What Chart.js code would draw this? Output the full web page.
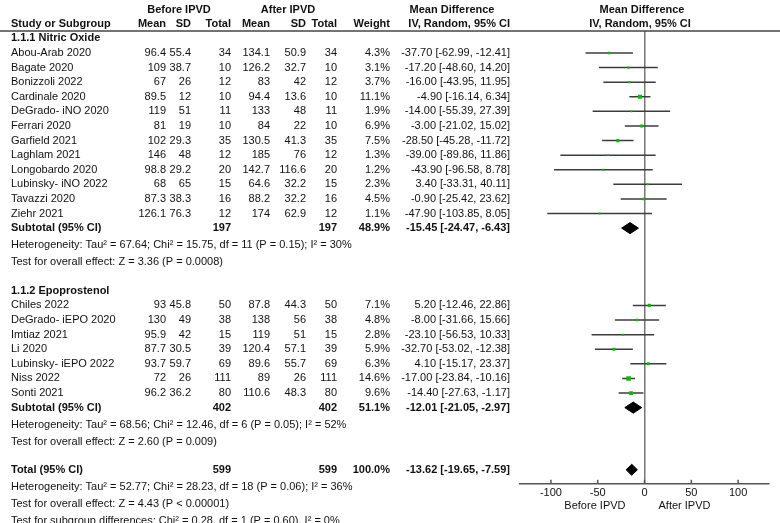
<!DOCTYPE html>
<html>
<head>
<meta charset="utf-8">
<script src="https://cdn.jsdelivr.net/npm/chart.js@4.4.0/dist/chart.umd.min.js"></script>
<style>
  html, body { margin: 0; padding: 0; background: #fff; }
  #wrap { position: relative; width: 780px; height: 523px; }
</style>
</head>
<body>
<div id="wrap"><canvas id="chart"></canvas></div>
<script>
// 1.1.1 Nitric Oxide
const noStudies = ["Abou-Arab 2020", "Bagate 2020", "Bonizzoli 2022", "Cardinale 2020", "DeGrado- iNO 2020", "Ferrari 2020",
  "Garfield 2021", "Laghlam 2021", "Longobardo 2020", "Lubinsky- iNO 2022", "Tavazzi 2020", "Ziehr 2021"];
const noBeforeMean = [96.4, 109, 67, 89.5, 119, 81, 102, 146, 98.8, 68, 87.3, 126.1];
const noBeforeSD = [55.4, 38.7, 26, 12, 51, 19, 29.3, 48, 29.2, 65, 38.3, 76.3];
const noBeforeN = [34, 10, 12, 10, 11, 10, 35, 12, 20, 15, 16, 12];
const noAfterMean = [134.1, 126.2, 83, 94.4, 133, 84, 130.5, 185, 142.7, 64.6, 88.2, 174];
const noAfterSD = [50.9, 32.7, 42, 13.6, 48, 22, 41.3, 76, 116.6, 32.2, 32.2, 62.9];
const noAfterN = [34, 10, 12, 10, 11, 10, 35, 12, 20, 15, 16, 12];
const noWeight = [4.3, 3.1, 3.7, 11.1, 1.9, 6.9, 7.5, 1.3, 1.2, 2.3, 4.5, 1.1];
const noMD = [-37.70, -17.20, -16.00, -4.90, -14.00, -3.00, -28.50, -39.00, -43.90, 3.40, -0.90, -47.90];
const noLow = [-62.99, -48.60, -43.95, -16.14, -55.39, -21.02, -45.28, -89.86, -96.58, -33.31, -25.42, -103.85];
const noHigh = [-12.41, 14.20, 11.95, 6.34, 27.39, 15.02, -11.72, 11.86, 8.78, 40.11, 23.62, 8.05];

// 1.1.2 Epoprostenol
const epoStudies = ["Chiles 2022", "DeGrado- iEPO 2020", "Imtiaz 2021", "Li 2020", "Lubinsky- iEPO 2022", "Niss 2022", "Sonti 2021"];
const epoBeforeMean = [93, 130, 95.9, 87.7, 93.7, 72, 96.2];
const epoBeforeSD = [45.8, 49, 42, 30.5, 59.7, 26, 36.2];
const epoBeforeN = [50, 38, 15, 39, 69, 111, 80];
const epoAfterMean = [87.8, 138, 119, 120.4, 89.6, 89, 110.6];
const epoAfterSD = [44.3, 56, 51, 57.1, 55.7, 26, 48.3];
const epoAfterN = [50, 38, 15, 39, 69, 111, 80];
const epoWeight = [7.1, 4.8, 2.8, 5.9, 6.3, 14.6, 9.6];
const epoMD = [5.20, -8.00, -23.10, -32.70, 4.10, -17.00, -14.40];
const epoLow = [-12.46, -31.66, -56.53, -53.02, -15.17, -23.84, -27.63];
const epoHigh = [22.86, 15.66, 10.33, -12.38, 23.37, -10.16, -1.17];

// pooled estimates: NO subtotal, EPO subtotal, overall total
const pooledLabels = ["Subtotal (95% CI)", "Subtotal (95% CI)", "Total (95% CI)"];
const pooledBeforeN = [197, 402, 599];
const pooledAfterN = [197, 402, 599];
const pooledWeight = [48.9, 51.1, 100.0];
const pooledMD = [-15.45, -12.01, -13.62];
const pooledLow = [-24.47, -21.05, -19.65];
const pooledHigh = [-6.43, -2.97, -7.59];

const noNotes = ["Heterogeneity: Tau\u00b2 = 67.64; Chi\u00b2 = 15.75, df = 11 (P = 0.15); I\u00b2 = 30%",
  "Test for overall effect: Z = 3.36 (P = 0.0008)"];
const epoNotes = ["Heterogeneity: Tau\u00b2 = 68.56; Chi\u00b2 = 12.46, df = 6 (P = 0.05); I\u00b2 = 52%",
  "Test for overall effect: Z = 2.60 (P = 0.009)"];
const totalNotes = ["Heterogeneity: Tau\u00b2 = 52.77; Chi\u00b2 = 28.23, df = 18 (P = 0.06); I\u00b2 = 36%",
  "Test for overall effect: Z = 4.43 (P < 0.00001)",
  "Test for subgroup differences: Chi\u00b2 = 0.28, df = 1 (P = 0.60), I\u00b2 = 0%"];

const xTicks = [-100, -50, 0, 50, 100];

// row layout (in row units, one row = one study line)
const NOTE_STEP = 17 / 14.6;
const G1 = 0;
const G2 = 17.3;
const TOT = 28.56;
const noRows = noStudies.map((_, i) => G1 + i);
const epoRows = epoStudies.map((_, i) => G2 + i);
const pooledRows = [G1 + noStudies.length, G2 + epoStudies.length, TOT];

const FONT = '"Liberation Sans", Arial, sans-serif';
const GREEN = '#00c000';
const LINE = '#3c3c3c';

const studyMD = noMD.concat(epoMD);
const studyLow = noLow.concat(epoLow);
const studyHigh = noHigh.concat(epoHigh);
const studyRows = noRows.concat(epoRows);
const studyWeight = noWeight.concat(epoWeight);

const ciSets = studyMD.map((_, i) => ({
  type: 'scatter',
  data: [{ x: studyLow[i], y: studyRows[i] }, { x: studyHigh[i], y: studyRows[i] }],
  showLine: true,
  borderColor: LINE,
  borderWidth: 1.5,
  pointRadius: 0,
  order: 2
}));

const squareSet = {
  type: 'scatter',
  data: studyMD.map((m, i) => ({ x: m, y: studyRows[i] })),
  pointStyle: 'rect',
  pointRadius: studyWeight.map(w => Math.max(1.3, 0.85 * Math.sqrt(w))),
  backgroundColor: GREEN,
  borderColor: GREEN,
  borderWidth: 0,
  order: 1
};

const DH = 0.38;
const diamondSets = pooledMD.map((m, i) => ({
  type: 'scatter',
  data: [
    { x: pooledLow[i], y: pooledRows[i] },
    { x: m, y: pooledRows[i] - DH },
    { x: pooledHigh[i], y: pooledRows[i] },
    { x: m, y: pooledRows[i] + DH },
    { x: pooledLow[i], y: pooledRows[i] }
  ],
  showLine: true,
  fill: 'shape',
  backgroundColor: '#000',
  borderColor: '#000',
  borderWidth: 1,
  pointRadius: 0,
  order: 0
}));

const tablePlugin = {
  id: 'table',
  afterDraw(chart) {
    const ctx = chart.ctx;
    const y = chart.scales.y;
    const x = chart.scales.x;
    const area = chart.chartArea;
    ctx.save();
    ctx.fillStyle = '#111';
    ctx.textBaseline = 'middle';
    const put = (t, px, py, align, bold) => {
      ctx.font = (bold ? 'bold ' : '') + '11px ' + FONT;
      ctx.textAlign = align || 'right';
      ctx.fillText(t, px, py);
    };
    const cols = [166, 191, 231, 270, 306, 337, 390, 510];
    const ci = (m, l, h) => m.toFixed(2) + ' [' + l.toFixed(2) + ', ' + h.toFixed(2) + ']';

    // headers
    put('Before IPVD', 179, 10, 'center', true);
    put('After IPVD', 288, 10, 'center', true);
    put('Mean Difference', 452, 10, 'center', true);
    put('Mean Difference', 642, 10, 'center', true);
    put('Study or Subgroup', 11, 24, 'left', true);
    ['Mean', 'SD', 'Total', 'Mean', 'SD', 'Total', 'Weight'].forEach((h, i) => put(h, cols[i], 24, 'right', true));
    put('IV, Random, 95% CI', 510, 24, 'right', true);
    put('IV, Random, 95% CI', 640, 24, 'center', true);

    ctx.strokeStyle = '#444';
    ctx.lineWidth = 1.5;
    ctx.beginPath();
    ctx.moveTo(0, area.top);
    ctx.lineTo(780, area.top);
    ctx.stroke();

    const group = (title, titleRow, names, bm, bs, bn, am, as, an, w, md, lo, hi, rows) => {
      put(title, 11, y.getPixelForValue(titleRow), 'left', true);
      names.forEach((n, i) => {
        const py = y.getPixelForValue(rows[i]);
        put(n, 11, py, 'left');
        [bm[i], bs[i], bn[i], am[i], as[i], an[i]].forEach((v, k) => put(String(v), cols[k], py));
        put(w[i].toFixed(1) + '%', cols[6], py);
        put(ci(md[i], lo[i], hi[i]), cols[7], py);
      });
    };
    group('1.1.1 Nitric Oxide', G1 - 1, noStudies, noBeforeMean, noBeforeSD, noBeforeN, noAfterMean, noAfterSD, noAfterN,
      noWeight, noMD, noLow, noHigh, noRows);
    group('1.1.2 Epoprostenol', G2 - 1, epoStudies, epoBeforeMean, epoBeforeSD, epoBeforeN, epoAfterMean, epoAfterSD, epoAfterN,
      epoWeight, epoMD, epoLow, epoHigh, epoRows);

    const notes = [noNotes, epoNotes, totalNotes];
    pooledLabels.forEach((lab, i) => {
      const py = y.getPixelForValue(pooledRows[i]);
      put(lab, 11, py, 'left', true);
      put(String(pooledBeforeN[i]), cols[2], py, 'right', true);
      put(String(pooledAfterN[i]), cols[5], py, 'right', true);
      put(pooledWeight[i].toFixed(1) + '%', cols[6], py, 'right', true);
      put(ci(pooledMD[i], pooledLow[i], pooledHigh[i]), cols[7], py, 'right', true);
      notes[i].forEach((t, k) => put(t, 11, y.getPixelForValue(pooledRows[i] + NOTE_STEP * (k + 1)), 'left'));
    });

    // upward tick marks on the axis
    ctx.strokeStyle = '#555';
    ctx.lineWidth = 1.5;
    x.ticks.forEach(t => {
      const px = x.getPixelForValue(t.value);
      ctx.beginPath();
      ctx.moveTo(px, area.bottom);
      ctx.lineTo(px, area.bottom - 4);
      ctx.stroke();
    });
    const zero = x.getPixelForValue(0);
    put('Before IPVD', zero - 19, area.bottom + 22, 'right');
    put('After IPVD', zero + 14, area.bottom + 22, 'left');
    ctx.restore();
  }
};

new Chart(document.getElementById('chart'), {
  type: 'scatter',
  data: { datasets: [...diamondSets, squareSet, ...ciSets] },
  options: {
    responsive: true,
    maintainAspectRatio: false,
    animation: false,
    layout: { padding: { left: 520, right: 11, top: 31, bottom: 20 } },
    plugins: { legend: { display: false }, tooltip: { enabled: false } },
    scales: {
      x: {
        type: 'linear',
        min: -133,
        max: 133,
        afterBuildTicks: axis => { axis.ticks = xTicks.map(v => ({ value: v })); },
        ticks: { includeBounds: false, color: '#111', padding: 3, font: { family: FONT, size: 11 } },
        grid: {
          drawTicks: false,
          lineWidth: 1.5,
          color: c => (c.tick && c.tick.value === 0 ? '#777' : 'rgba(0,0,0,0)')
        },
        border: { color: '#555', width: 1.5 }
      },
      y: {
        type: 'linear',
        display: false,
        reverse: true,
        min: -22 / 14.6,
        max: -22 / 14.6 + 453 / 14.6
      }
    }
  },
  plugins: [tablePlugin]
});
</script>
</body>
</html>
